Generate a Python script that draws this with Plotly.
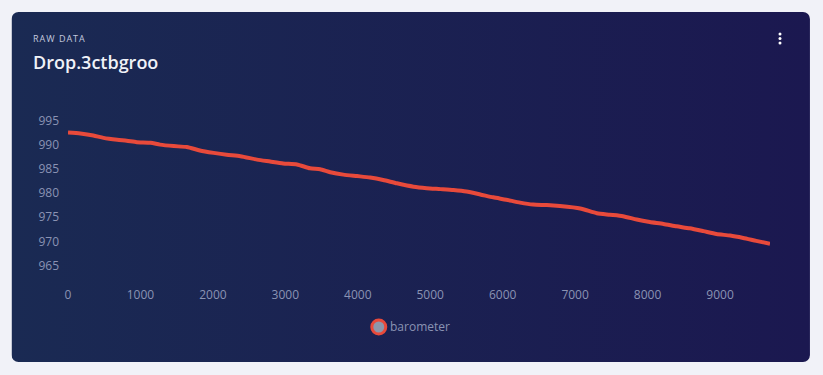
import base64
import plotly.graph_objects as go

# ---- data ----
x_vals = [0, 170, 350, 490, 680, 810, 950, 1140, 1270, 1460, 1640, 1820, 2010, 2190,
          2380, 2610, 2790, 2970, 3160, 3340, 3480, 3620, 3800, 3990, 4170, 4350, 4540,
          4770, 4950, 5140, 5320, 5500, 5690, 5870, 6050, 6240, 6420, 6610, 6790, 7070,
          7300, 7480, 7660, 7850, 8030, 8220, 8400, 8580, 8770, 8950, 9140, 9320, 9500, 9690]
barometer = [992.5, 992.3, 991.9, 991.4, 991.0, 990.8, 990.5, 990.4, 990.0, 989.7, 989.5,
             988.8, 988.3, 987.9, 987.6, 986.9, 986.5, 986.1, 985.9, 985.1, 984.9, 984.3,
             983.8, 983.5, 983.2, 982.7, 982.0, 981.3, 981.0, 980.8, 980.6, 980.3, 979.7,
             979.1, 978.6, 978.0, 977.6, 977.5, 977.3, 976.8, 975.8, 975.5, 975.2, 974.5,
             974.0, 973.6, 973.1, 972.7, 972.1, 971.5, 971.2, 970.7, 970.1, 969.5]
series_name = "barometer"
subtitle = "RAW DATA"
title = "Drop.3ctbgroo"
x_ticks = [0, 1000, 2000, 3000, 4000, 5000, 6000, 7000, 8000, 9000]
y_ticks = [965, 970, 975, 980, 985, 990, 995]

W, H = 823, 375
PL, PR, PT, PB = 67.5, 770, 105, 280  # plot area in pixels
LINE_RED = "#e84a3b"
TICK_COL = "#8a93b3"


def fx(px):
    return (px - PL) / (PR - PL)


def fy(py):
    return 1 - (py - PT) / (PB - PT)


# card background as an inline SVG gradient
svg = f'''<svg xmlns="http://www.w3.org/2000/svg" width="799" height="350" viewBox="0 0 799 350">
<defs><linearGradient id="g" x1="0" y1="0" x2="1" y2="0">
<stop offset="0" stop-color="#1a2a53"/><stop offset="1" stop-color="#1b1850"/></linearGradient></defs>
<rect x="0" y="0" width="799" height="350" rx="7" ry="7" fill="url(#g)"/></svg>'''
src = "data:image/svg+xml;base64," + base64.b64encode(svg.encode()).decode()

fig = go.Figure()
fig.add_trace(go.Scatter(
    x=x_vals, y=barometer, mode="lines", name=series_name, showlegend=False,
    line=dict(color=LINE_RED, width=4, shape="spline", smoothing=0.6),
))

fig.add_layout_image(dict(
    source=src, xref="paper", yref="paper",
    x=fx(11), y=fy(12), sizex=fx(810) - fx(11), sizey=fy(12) - fy(362),
    xanchor="left", yanchor="top", sizing="stretch", layer="below",
))

annotations = [
    dict(text=f'<span style="letter-spacing:1px">{subtitle}</span>',
         x=fx(30.5), y=fy(38), xref="paper", yref="paper", showarrow=False,
         xanchor="left", yanchor="middle",
         font=dict(family="Open Sans", size=9, color="#c3c9df")),
    dict(text=title, x=fx(30.5), y=fy(62), xref="paper", yref="paper", showarrow=False,
         xanchor="left", yanchor="middle",
         font=dict(family="Open Sans", size=18, color="#f0f2f8", weight=600)),
    # legend label
    dict(text=series_name, x=fx(388), y=fy(326), xref="paper", yref="paper", showarrow=False,
         xanchor="left", yanchor="middle",
         font=dict(family="Open Sans", size=12, color=TICK_COL)),
]

shapes = []
for cy in (34, 38.5, 43):
    shapes.append(dict(type="circle", xref="paper", yref="paper",
                       x0=fx(778.5), x1=fx(781.5), y0=fy(cy - 1.5), y1=fy(cy + 1.5),
                       fillcolor="#ffffff", line=dict(width=0)))
# legend marker
shapes.append(dict(type="circle", xref="paper", yref="paper",
                   x0=fx(371.5), x1=fx(385.5), y0=fy(334), y1=fy(320),
                   fillcolor="#8d97ab", line=dict(color=LINE_RED, width=3)))

fig.update_layout(
    width=W, height=H,
    margin=dict(l=PL, r=W - PR, t=PT, b=H - PB),
    paper_bgcolor="#f1f2f8", plot_bgcolor="rgba(0,0,0,0)",
    font=dict(family="Open Sans", size=12, color=TICK_COL),
    annotations=annotations, shapes=shapes,
    showlegend=False,
    xaxis=dict(range=[0, 9690], tickvals=x_ticks, showgrid=False, zeroline=False,
               showline=False, ticks="", ticklabelstandoff=6),
    yaxis=dict(range=[962.0, 998.2], tickvals=y_ticks, showgrid=False, zeroline=False,
               showline=False, ticks="", ticklabelstandoff=8),
)

fig.write_html("out.html", config={"displayModeBar": False},
               post_script="document.body.style.margin='0';")
